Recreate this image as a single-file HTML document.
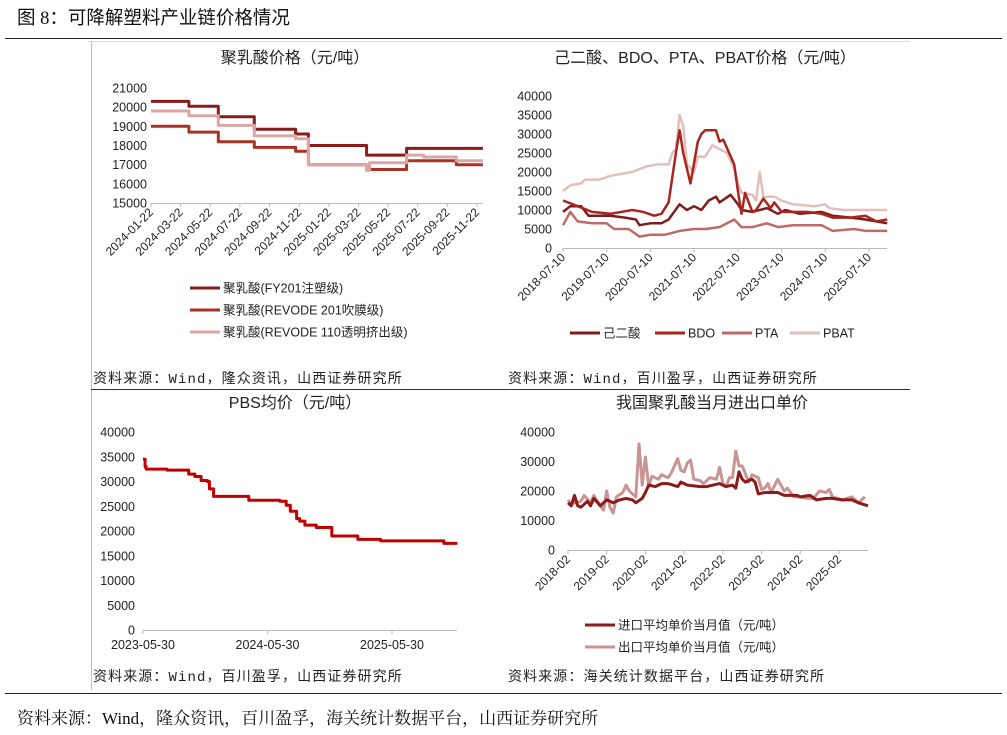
<!DOCTYPE html>
<html><head><meta charset="utf-8">
<style>
html,body{margin:0;padding:0;background:#fff;}
svg{display:block;font-family:"Liberation Sans","Noto Sans CJK SC",sans-serif;}
</style></head>
<body>
<svg id="fig" width="1007" height="735" viewBox="0 0 1007 735" xmlns="http://www.w3.org/2000/svg">
<text x="17" y="24" font-size="18.5" fill="#111" font-family="'Liberation Serif','Noto Sans CJK SC',sans-serif">图 8：可降解塑料产业链价格情况</text>
<line x1="5" y1="38.5" x2="1002" y2="38.5" stroke="#222" stroke-width="1"/>
<line x1="88" y1="41.5" x2="910" y2="41.5" stroke="#ddd" stroke-width="1"/>
<line x1="91.5" y1="42" x2="91.5" y2="690" stroke="#bbb" stroke-width="1"/>
<line x1="91" y1="389.5" x2="910" y2="389.5" stroke="#333" stroke-width="1"/>
<line x1="5" y1="693.5" x2="1002" y2="693.5" stroke="#222" stroke-width="1"/>
<text x="17" y="724" font-size="17" fill="#111" font-family="'Liberation Serif','Noto Serif CJK SC',serif">资料来源：Wind，隆众资讯，百川盈孚，海关统计数据平台，山西证券研究所</text>
<g id="layer"></g>
</svg>
<script>
// ---- Chart 1: PLA prices (step series, t = months since 2024-01-22) ----
const plaTicks = ["2024-01-22","2024-03-22","2024-05-22","2024-07-22","2024-09-22","2024-11-22","2025-01-22","2025-03-22","2025-05-22","2025-07-22","2025-09-22","2025-11-22"];
const plaYTicks = [15000,16000,17000,18000,19000,20000,21000];
const fyT = [0,2.56,4.54,6.97,9.76,10.62,14.55,17.25];
const fyV = [20300,20050,19500,18850,18600,18000,17500,17850];
const r201T = [0,2.56,4.54,6.97,9.76,10.62,14.55,17.25,20.6];
const r201V = [19000,18700,18200,17900,17700,17000,16750,17200,17000];
const r110T = [0,2.56,4.54,6.97,9.76,10.62,14.55,14.75,17.25,18.4,20.6];
const r110V = [19800,19550,19050,18500,18350,17000,16700,17100,17500,17400,17200];
const plaEnd = 22.4;

// ---- Chart 2: raw materials (m = months since 2018-07) ----
const rawTicks = ["2018-07-10","2019-07-10","2020-07-10","2021-07-10","2022-07-10","2023-07-10","2024-07-10","2025-07-10"];
const rawYTicks = [0,5000,10000,15000,20000,25000,30000,35000,40000];
const adipM = [0,2,5,7,13,17,20,21,24,27,29,32,34,36,38,40,42,43,46,48,49,52,56,59,61,65,71,74,79,83,89];
const adipV = [9500,11000,11000,8500,8500,8000,7500,6000,6500,6500,7500,11500,10000,11000,10000,12500,13500,12000,14000,11500,10000,9500,10500,9000,10000,9000,9500,8500,8000,7500,6500];
const bdoM = [0,4,8,13,19,22,25,27,29,31,32,33,35,37,38,39,42,43,44,47,48,49,50,52,53,55,57,58,60,63,67,71,74,79,83,86,89];
const bdoV = [12500,11000,9500,9000,10000,9500,8500,9000,12000,25000,31000,25000,17000,28000,30000,31000,31000,28000,28500,22000,15000,9000,14500,9500,10000,13000,10500,12000,9500,9500,9500,9000,8000,8000,8500,7000,7500];
const ptaM = [0,2,4,8,12,14,18,21,24,28,32,36,39,43,47,49,52,56,59,63,71,74,80,83,89];
const ptaV = [6000,9500,7000,6500,6500,5000,5000,3000,3500,3500,4500,5000,5000,5500,7500,5500,5500,6500,5500,6000,6000,4500,5000,4500,4500];
const pbatM = [0,2,5,6,10,13,16,19,23,26,29,30,31,32,33,34,36,37,39,41,43,45,47,48,49,52,53,54,55,58,60,63,69,72,73,77,89];
const pbatV = [15000,16500,17000,18000,18000,19000,19500,20000,21500,22000,22000,25000,26000,35000,32000,22000,20000,24000,24000,27000,26000,25000,21000,17000,14500,14000,12500,20000,13500,13500,12500,11500,11000,11500,10500,10000,10000];

// ---- Chart 3: PBS (step, m = months since 2023-05-30) ----
const pbsTicks = ["2023-05-30","2024-05-30","2025-05-30"];
const pbsYTicks = [0,5000,10000,15000,20000,25000,30000,35000,40000];
const pbsM = [0,0.2,0.3,2.3,4.4,5,5.6,6.2,6.4,6.8,10.2,13.2,13.8,14.2,14.8,15.1,15.6,16.7,18.2,20.7,22.9,29];
const pbsV = [34500,33000,32500,32300,31500,31000,30200,30000,28500,27000,26200,26000,25200,24000,22500,22000,21200,20700,19000,18300,18000,17500];
const pbsEnd = 30.3;

// ---- Chart 4: import/export unit price (m = months since 2018-02) ----
const tradeTicks = ["2018-02","2019-02","2020-02","2021-02","2022-02","2023-02","2024-02","2025-02"];
const tradeYTicks = [0,10000,20000,30000,40000];
const impM = [0,1,2,3,4,6,7,8,10,12,14,16,18,20,21,23,24,25,27,29,31,34,35,37,41,43,45,47,49,51,52,53,54,55,57,58,59,61,65,67,69,71,72,75,77,80,82,85,88,90,93];
const impV = [16000,15000,18500,15000,14500,16500,15000,17500,15000,17000,16000,17000,17500,17000,16000,17500,19500,22000,21500,22500,22500,21500,23000,22000,21500,21500,22000,22500,21500,22000,21000,26500,24000,23000,24000,23000,19000,19500,19500,18500,18500,18500,18000,18500,17000,17500,17500,17000,17000,16000,15000];
const expM = [0,1,2,4,5,7,8,10,11,12,13,14,15,17,18,19,21,22,23,24,25,26,28,29,31,32,34,35,36,37,38,39,41,42,44,46,47,48,49,50,51,52,53,54,56,57,59,60,61,62,63,65,66,67,68,70,72,74,76,78,80,81,82,85,88,90,92];
const expV = [17000,15500,16000,16500,18500,16000,18500,15000,13500,20000,14500,12500,18000,19500,22000,20000,18000,36000,22000,31500,21500,25000,24000,25500,24500,26000,31000,27000,26500,29500,30500,24000,23500,22500,24500,24000,28000,22500,21500,24500,24500,33500,28500,28500,23000,25500,24500,20500,21000,22500,19500,24000,22000,20000,21000,18000,18000,17500,17500,20000,19500,20500,18000,17000,18000,16000,18000];

const NS = "http://www.w3.org/2000/svg";
const layer = document.getElementById("layer");
function mk(tag, attrs, parent){
  const e = document.createElementNS(NS, tag);
  for (const k in attrs) e.setAttribute(k, attrs[k]);
  (parent||layer).appendChild(e);
  return e;
}
function txt(x,y,s,size,anchor,parent){
  const e = mk("text",{x:x,y:y,"font-size":size,"text-anchor":anchor||"start",fill:"#222"},parent);
  e.textContent = s; return e;
}
function lin(x0,x1,d0,d1){return v=>x0+(v-d0)/(d1-d0)*(x1-x0);}
function linePath(xs,ys,fx,fy){return xs.map((v,i)=>(i?"L":"M")+fx(v).toFixed(1)+","+fy(ys[i]).toFixed(1)).join("");}
function stepPath(xs,ys,end,fx,fy){
  let d="";
  xs.forEach((v,i)=>{
    const nx = i<xs.length-1?xs[i+1]:end;
    d += (i?"L":"M")+fx(v).toFixed(1)+","+fy(ys[i]).toFixed(1)+"L"+fx(nx).toFixed(1)+","+fy(ys[i]).toFixed(1);
  });
  return d;
}
function series(d,color,w,name){
  const p = mk("path",{d:d,fill:"none",stroke:color,"stroke-width":w,"stroke-linejoin":"round"});
  
  
  return p;
}
function legendEntry(x,y,color,label,w,name){
  const g = mk("g",{});
  
  
  mk("line",{x1:x,y1:y,x2:x+30,y2:y,stroke:color,"stroke-width":w||3},g);
  txt(x+33,y+4.5,label,12.5,"start",g);
}
function title(x,y,s,name){
  const t = txt(x,y,s,16,"middle");
  
  
}
function source(x,y,s,name){
  const t = txt(x,y,s,14,"start");
  t.setAttribute("font-family","'Liberation Mono','Noto Sans CJK SC',monospace");
  t.setAttribute("letter-spacing","1.1");
  
  
}
function yAxis(ticks,fy,xr,name){
  const g = mk("g",{});
  
  
  ticks.forEach(v=>txt(xr,fy(v)+4.5,String(v),12.5,"end",g));
}
function xAxis(x0,x1,y,tickXs,labels,rot,name){
  const g = mk("g",{});
  
  
  mk("line",{x1:x0,y1:y+0.5,x2:x1,y2:y+0.5,stroke:"#bbb","stroke-width":1},g);
  tickXs.forEach((tx,i)=>{
    mk("line",{x1:tx,y1:y,x2:tx,y2:y+4,stroke:"#bbb","stroke-width":1},g);
    if(rot){
      const t = txt(tx+3,y+10,labels[i],12,"end",g);
      t.setAttribute("transform","rotate(-45 "+(tx+3)+" "+(y+10)+")");
    } else {
      txt(tx,y+19,labels[i],12.5,"middle",g);
    }
  });
}

// Chart 1
(function(){
  const fx = lin(151,477,0,22), fy = lin(203,88,15000,21000);
  title(295,63,"聚乳酸价格（元/吨）","pla-chart-title");
  yAxis(plaYTicks,fy,147,"pla-y-axis");
  xAxis(151,483,203,plaTicks.map((_,i)=>fx(i*2)),plaTicks,true,"pla-x-axis");
  series(stepPath(fyT,fyV,plaEnd,fx,fy),"#8B1A1A",3,"pla-fy201-line");
  series(stepPath(r201T,r201V,plaEnd,fx,fy),"#A93226",3,"pla-revode201-line");
  series(stepPath(r110T,r110V,plaEnd,fx,fy),"#D9A8A5",3,"pla-revode110-line");
  legendEntry(190,288,"#8B1A1A","聚乳酸(FY201注塑级)",3,"legend-fy201");
  legendEntry(190,310,"#A93226","聚乳酸(REVODE 201吹膜级)",3,"legend-revode201");
  legendEntry(190,332,"#D9A8A5","聚乳酸(REVODE 110透明挤出级)",3,"legend-revode110");
  source(93,383,"资料来源：Wind，隆众资讯，山西证券研究所","pla-source");
})();

// Chart 2
(function(){
  const fx = lin(563,869,0,84), fy = lin(248,96,0,40000);
  title(705,63,"己二酸、BDO、PTA、PBAT价格（元/吨）","raw-chart-title");
  yAxis(rawYTicks,fy,552,"raw-y-axis");
  xAxis(563,887,248,rawTicks.map((_,i)=>fx(i*12)),rawTicks,true,"raw-x-axis");
  series(linePath(pbatM,pbatV,fx,fy),"#E2BEBC",2.5,"pbat-line");
  series(linePath(ptaM,ptaV,fx,fy),"#C06A67",2.5,"pta-line");
  series(linePath(adipM,adipV,fx,fy),"#7E1C1C",2.5,"adipic-acid-line");
  series(linePath(bdoM,bdoV,fx,fy),"#A8261E",2.5,"bdo-line");
  legendEntry(570,333,"#7E1C1C","己二酸",3,"legend-adipic-acid");
  legendEntry(655,333,"#A8261E","BDO",3,"legend-bdo");
  legendEntry(722,333,"#C06A67","PTA",3,"legend-pta");
  legendEntry(790,333,"#E2BEBC","PBAT",3,"legend-pbat");
  source(508,383,"资料来源：Wind，百川盈孚，山西证券研究所","raw-source");
})();

// Chart 3
(function(){
  const fx = lin(143,392,0,24), fy = lin(630,432,0,40000);
  title(295,408,"PBS均价（元/吨）","pbs-chart-title");
  yAxis(pbsYTicks,fy,135,"pbs-y-axis");
  xAxis(143,457,630,pbsTicks.map((_,i)=>fx(i*12)),pbsTicks,false,"pbs-x-axis");
  series(stepPath(pbsM,pbsV,pbsEnd,fx,fy),"#C00000",3,"pbs-line");
  source(93,681,"资料来源：Wind，百川盈孚，山西证券研究所","pbs-source");
})();

// Chart 4
(function(){
  const fx = lin(568,839,0,84), fy = lin(550,432,0,40000);
  title(712,408,"我国聚乳酸当月进出口单价","trade-chart-title");
  yAxis(tradeYTicks,fy,555,"trade-y-axis");
  xAxis(568,868,550,tradeTicks.map((_,i)=>fx(i*12)),tradeTicks,true,"trade-x-axis");
  series(linePath(expM,expV,fx,fy),"#C99593",3,"export-price-line");
  series(linePath(impM,impV,fx,fy),"#8B1A1A",3,"import-price-line");
  legendEntry(585,625,"#8B1A1A","进口平均单价当月值（元/吨）",3,"legend-import");
  legendEntry(585,647,"#C99593","出口平均单价当月值（元/吨）",3,"legend-export");
  source(508,681,"资料来源：海关统计数据平台，山西证券研究所","trade-source");
})();
</script>
</body></html>
